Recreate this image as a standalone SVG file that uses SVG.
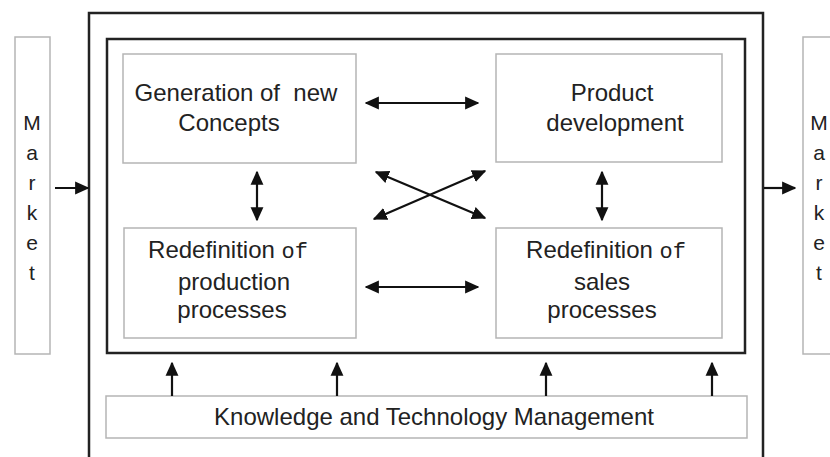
<svg xmlns="http://www.w3.org/2000/svg" width="830" height="457" viewBox="0 0 830 457">
<defs>
<marker id="ah" viewBox="0 0 10 10" refX="9" refY="5" markerWidth="6.5" markerHeight="6.5" orient="auto-start-reverse" markerUnits="strokeWidth">
<path d="M0,0.5 L10,5 L0,9.5 z" fill="#111"/>
</marker>
</defs>
<style>
.frame{fill:none;stroke:#222;stroke-width:2.5}
.node{fill:#fff;stroke:#b5b5b5;stroke-width:1.5}
.t{font-family:"Liberation Sans",Arial,sans-serif;font-size:24px;fill:#222;text-anchor:middle}
.m{font-family:"Liberation Sans",Arial,sans-serif;font-size:21px;fill:#222;text-anchor:middle}
.of{font-family:"Liberation Mono","Courier New",monospace;font-size:22px}
.c{fill:none;stroke:#111;stroke-width:2.2}
</style>
<rect width="830" height="457" fill="#fff"/>
<g id="outer"><path class="frame" d="M89,460 L89,13 L763,13 L763,460"/></g>
<g id="inner"><rect class="frame" x="107" y="39" width="638" height="314"/></g>
<g id="market-left">
<rect class="node" x="15" y="37" width="35" height="317"/>
<text class="m" x="32" y="130">M</text>
<text class="m" x="32" y="160">a</text>
<text class="m" x="32" y="190">r</text>
<text class="m" x="32" y="220">k</text>
<text class="m" x="32" y="250">e</text>
<text class="m" x="32" y="280">t</text>
</g>
<g id="market-right">
<rect class="node" x="803" y="37" width="40" height="317"/>
<text class="m" x="819" y="130">M</text>
<text class="m" x="819" y="160">a</text>
<text class="m" x="819" y="190">r</text>
<text class="m" x="819" y="220">k</text>
<text class="m" x="819" y="250">e</text>
<text class="m" x="819" y="280">t</text>
</g>
<g id="generation">
<rect class="node" x="123" y="54" width="233" height="109"/>
<text class="t" x="236" y="101" xml:space="preserve">Generation of  new</text>
<text class="t" x="229" y="131">Concepts</text>
</g>
<g id="product">
<rect class="node" x="496" y="54" width="226" height="108"/>
<text class="t" x="612" y="101">Product</text>
<text class="t" x="615" y="131">development</text>
</g>
<g id="production">
<rect class="node" x="124" y="228" width="232" height="110"/>
<text class="t" x="228" y="258">Redefinition <tspan class="of">of</tspan></text>
<text class="t" x="234" y="290">production</text>
<text class="t" x="232" y="318">processes</text>
</g>
<g id="sales">
<rect class="node" x="496" y="228" width="226" height="110"/>
<text class="t" x="606" y="258">Redefinition <tspan class="of">of</tspan></text>
<text class="t" x="602" y="290">sales</text>
<text class="t" x="602" y="318">processes</text>
</g>
<g id="knowledge">
<rect class="node" x="106" y="396" width="641" height="42"/>
<text class="t" x="434" y="425">Knowledge and Technology Management</text>
</g>
<g id="connectors">
<line class="c" x1="55" y1="188" x2="88" y2="188" marker-end="url(#ah)"/>
<line class="c" x1="764" y1="188" x2="795" y2="188" marker-end="url(#ah)"/>
<line class="c" x1="366" y1="103" x2="478" y2="103" marker-start="url(#ah)" marker-end="url(#ah)"/>
<line class="c" x1="366" y1="287" x2="478" y2="287" marker-start="url(#ah)" marker-end="url(#ah)"/>
<line class="c" x1="257" y1="172" x2="257" y2="220" marker-start="url(#ah)" marker-end="url(#ah)"/>
<line class="c" x1="602" y1="172" x2="602" y2="220" marker-start="url(#ah)" marker-end="url(#ah)"/>
<line class="c" x1="376" y1="172" x2="485" y2="218" marker-start="url(#ah)" marker-end="url(#ah)"/>
<line class="c" x1="374" y1="219" x2="485" y2="171" marker-start="url(#ah)" marker-end="url(#ah)"/>
<line class="c" x1="172" y1="396" x2="172" y2="363" marker-end="url(#ah)"/>
<line class="c" x1="337" y1="396" x2="337" y2="363" marker-end="url(#ah)"/>
<line class="c" x1="546" y1="396" x2="546" y2="363" marker-end="url(#ah)"/>
<line class="c" x1="712" y1="396" x2="712" y2="363" marker-end="url(#ah)"/>
</g>
</svg>
